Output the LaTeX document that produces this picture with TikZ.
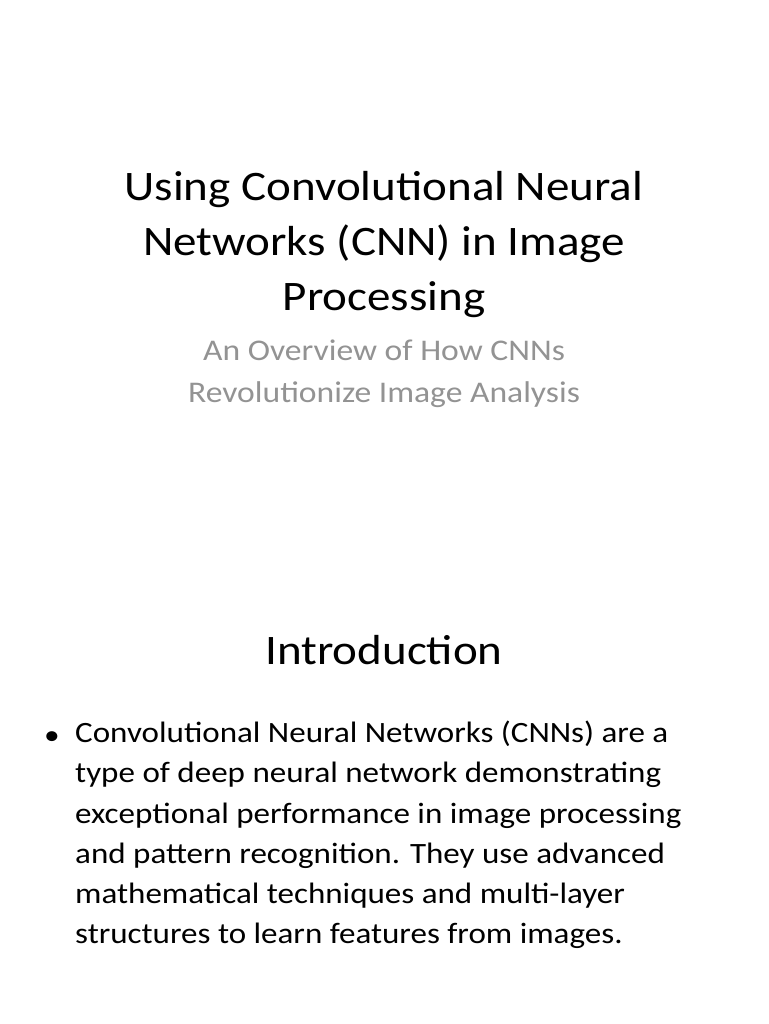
\documentclass[tikz,border=0pt]{standalone}
\usepackage{fontspec}
\setmainfont{Carlito}[FakeStretch=1.12]
\begin{document}
\begin{tikzpicture}[x=1pt,y=-1pt,
  title/.style={font=\fontsize{42}{55}\selectfont, align=center, text=black},
  sub/.style={font=\fontsize{30}{42}\selectfont, align=center, text=gray!85},
  body/.style={font=\fontsize{29.5}{40.2}\selectfont, align=left, anchor=north west, inner sep=0pt}]
\useasboundingbox (0,0) rectangle (768,1024);
\fill[white] (0,0) rectangle (768,1024);
\node[title] (t) at (384,245) {Using Convolutional Neural\\Networks (CNN) in Image\\Processing};
\node[sub] (s) at (384,374) {An Overview of How CNNs\\Revolutionize Image Analysis};
\node[title, font=\fontsize{42}{48}\selectfont] (i) at (384,650) {Introduction};
\node[font=\fontsize{28}{34}\selectfont] (b) at (52,738) {•};
\node[body] (p) at (75,721) {Convolutional Neural Networks (CNNs) are a\\type of deep neural network demonstrating\\exceptional performance in image processing\\and pattern recognition. They use advanced\\mathematical techniques and multi-layer\\structures to learn features from images.};
\end{tikzpicture}
\end{document}
